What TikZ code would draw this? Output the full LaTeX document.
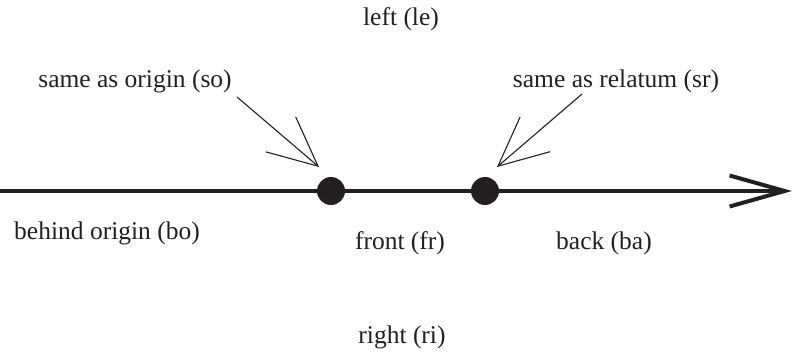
\documentclass[tikz,border=0pt]{standalone}
\usepackage{fontspec}
\setmainfont{Liberation Serif}
\usepackage{tikz}
\usetikzlibrary{
  arrows.meta,
  positioning
}
\definecolor{InkBlack}{RGB}{35, 31, 32}
\tikzset{
    relation/.style={font=\fontsize{25.5}{30}\selectfont, text=InkBlack, inner sep=0pt},
    refpoint/.style={circle, fill=InkBlack, minimum size=28pt, inner sep=0pt},
    axisline/.style={draw=InkBlack, line width=4pt, -{Straight Barb[length=55pt, width=31pt]}},
    pointer/.style={draw=InkBlack, line width=1.1pt, -{Straight Barb[length=49pt, width=46pt]}}
}

\begin{document}
\begin{tikzpicture}[x=1pt, y=-1pt]
            \useasboundingbox (0,0) rectangle (794,353);
            % the axis and its two points
            \coordinate (axstart) at (0,191);
            \coordinate (axend) at (792,191);
            \node[refpoint] (origin) at (331,191) {};
            \node[refpoint] (relatum) at (485,191) {};
            \draw[axisline] (axstart) -- (axend);
            % labels
            \node[relation] (le) at (401,19) {left (le)};
            \node[relation] (so) at (135,81) {same as origin (so)};
            \node[relation] (sr) at (616,81) {same as relatum (sr)};
            \node[relation] (bo) at (107,233) {behind origin (bo)};
            \node[relation] (fr) at (400,243) {front (fr)};
            \node[relation] (ba) at (604,243) {back (ba)};
            \node[relation] (ri) at (402,337) {right (ri)};
            % pointers to the points
            \coordinate (sotail) at (237,97);
            \coordinate (sotip) at (319,167);
            \coordinate (srtail) at (582,94);
            \coordinate (srtip) at (497,167);
            \draw[pointer] (sotail) -- (sotip);
            \draw[pointer] (srtail) -- (srtip);
        \end{tikzpicture}
\end{document}
